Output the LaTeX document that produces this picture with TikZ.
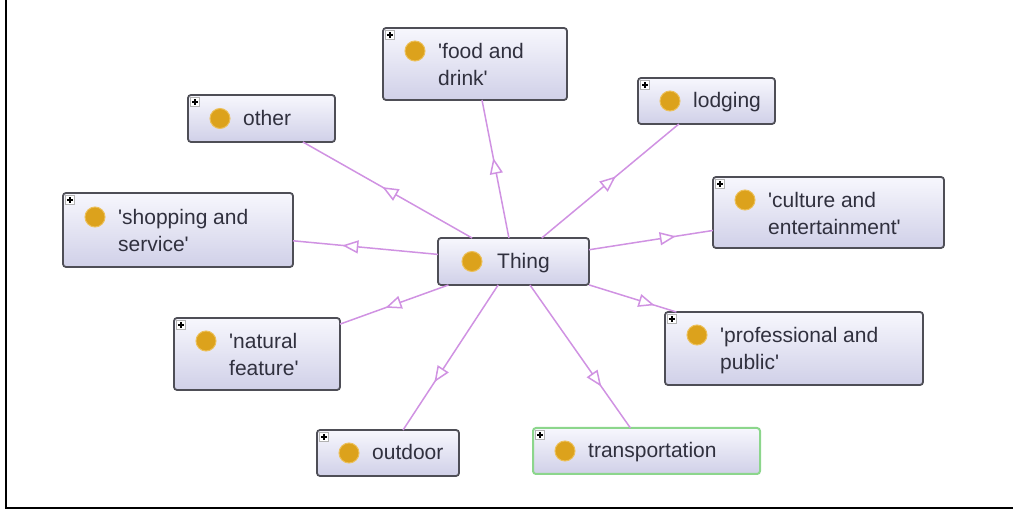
\documentclass[tikz,border=0pt]{standalone}
\usepackage{fontspec}
\newfontfamily\lblfont{Liberation Sans}
\usetikzlibrary{arrows.meta,decorations.markings}

\definecolor{edgevio}{RGB}{208,146,226}
\definecolor{boxrim}{RGB}{78,78,86}
\definecolor{boxtop}{RGB}{247,247,253}
\definecolor{boxbot}{RGB}{208,208,232}
\definecolor{selrim}{RGB}{140,214,140}
\definecolor{labelgrey}{RGB}{48,48,62}
\definecolor{goldfill}{RGB}{220,162,28}
\definecolor{goldrim}{RGB}{236,192,90}

\tikzset{
  clsbox/.style={draw=boxrim, line width=1.8pt, rounded corners=3pt,
    top color=boxtop, bottom color=boxbot, inner sep=0pt, outer sep=0pt},
  selbox/.style={clsbox, draw=selrim, line width=2pt},
  plusbox/.style={draw=gray!60, fill=white, minimum size=9pt, inner sep=0pt,
    line width=0.6pt,
    path picture={
      \draw[black, line width=1.3pt]
        ([xshift=-2.6pt]path picture bounding box.center) -- ([xshift=2.6pt]path picture bounding box.center)
        ([yshift=-2.6pt]path picture bounding box.center) -- ([yshift=2.6pt]path picture bounding box.center);
    }},
  dot/.style={circle, fill=goldfill, draw=goldrim, line width=1pt,
    minimum size=20pt, inner sep=0pt},
  lbl/.style={anchor=base west, inner sep=0pt, text=labelgrey,
    font=\lblfont\fontsize{21}{25}\selectfont},
  link/.style={draw=edgevio, line width=1.5pt, postaction={decorate},
    decoration={markings, mark=at position #1 with
      {\arrow{Triangle[length=16pt,width=13pt,fill=white]}}}},
}

\begin{document}
\begin{tikzpicture}[x=1pt,y=-1pt]
\useasboundingbox (0,0) rectangle (1013,510);

% frame on the left and bottom
\draw[line width=2.5pt, line cap=rect] (6,0) -- (6,508) -- (1013,508);

% root class
\node[clsbox, minimum width=151, minimum height=47] (thing) at (513.5,261.5) {};
\node[dot] (thing-dot) at (472,261.5) {};
\node[lbl] (thing-l1) at (497,268.5) {Thing};

% food and drink
\node[clsbox, minimum width=184, minimum height=72] (food) at (475,64) {};
\node[plusbox] (food-plus) at (390,35) {};
\node[dot] (food-dot) at (415,51) {};
\node[lbl] (food-l1) at (438,58.5) {'food and};
\node[lbl] (food-l2) at (438,86) {drink'};

% other
\node[clsbox, minimum width=147, minimum height=47] (other) at (261.5,118.5) {};
\node[plusbox] (other-plus) at (195,102) {};
\node[dot] (other-dot) at (220,118.5) {};
\node[lbl] (other-l1) at (243,125.5) {other};

% lodging
\node[clsbox, minimum width=137, minimum height=46] (lodging) at (706.5,101) {};
\node[plusbox] (lodging-plus) at (645,85) {};
\node[dot] (lodging-dot) at (670,101) {};
\node[lbl] (lodging-l1) at (693,108) {lodging};

% culture and entertainment
\node[clsbox, minimum width=231, minimum height=71] (culture) at (828.5,212.5) {};
\node[plusbox] (culture-plus) at (720,184) {};
\node[dot] (culture-dot) at (745,200) {};
\node[lbl] (culture-l1) at (768,207.5) {'culture and};
\node[lbl] (culture-l2) at (768,235) {entertainment'};

% shopping and service
\node[clsbox, minimum width=230, minimum height=74] (shopping) at (178,230) {};
\node[plusbox] (shopping-plus) at (70,200) {};
\node[dot] (shopping-dot) at (95,217) {};
\node[lbl] (shopping-l1) at (118,224.5) {'shopping and};
\node[lbl] (shopping-l2) at (118,252) {service'};

% natural feature
\node[clsbox, minimum width=166, minimum height=72] (natural) at (257,354) {};
\node[plusbox] (natural-plus) at (181,325) {};
\node[dot] (natural-dot) at (206,341) {};
\node[lbl] (natural-l1) at (229,348.5) {'natural};
\node[lbl] (natural-l2) at (229,376) {feature'};

% professional and public
\node[clsbox, minimum width=258, minimum height=73] (prof) at (794,348.5) {};
\node[plusbox] (prof-plus) at (672,319) {};
\node[dot] (prof-dot) at (697,335) {};
\node[lbl] (prof-l1) at (720,342.5) {'professional and};
\node[lbl] (prof-l2) at (720,370) {public'};

% outdoor
\node[clsbox, minimum width=142, minimum height=46] (outdoor) at (388,453) {};
\node[plusbox] (outdoor-plus) at (324,437) {};
\node[dot] (outdoor-dot) at (349,453) {};
\node[lbl] (outdoor-l1) at (372,460) {outdoor};

% transportation (selected)
\node[selbox, minimum width=227, minimum height=46] (transport) at (646.5,451) {};
\node[plusbox] (transport-plus) at (540,435) {};
\node[dot] (transport-dot) at (565,451) {};
\node[lbl] (transport-l1) at (588,458) {transportation};

% subclass links
\draw[link=0.53] (thing) -- (other);
\draw[link=0.58] (thing) -- (food);
\draw[link=0.54] (thing) -- (lodging);
\draw[link=0.70] (thing) -- (culture);
\draw[link=0.66] (thing) -- (shopping);
\draw[link=0.58] (thing) -- (natural);
\draw[link=0.75] (thing) -- (prof);
\draw[link=0.67] (thing) -- (outdoor);
\draw[link=0.71] (thing) -- (transport);
\end{tikzpicture}
\end{document}
